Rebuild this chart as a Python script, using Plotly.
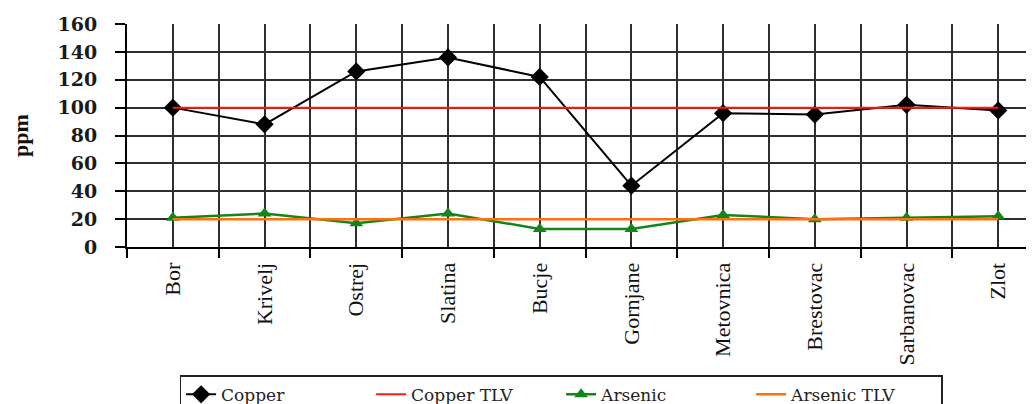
import plotly.graph_objects as go

sites = ["Bor", "Krivelj", "Ostrej", "Slatina", "Bucje", "Gornjane",
         "Metovnica", "Brestovac", "Sarbanovac", "Zlot"]
copper = [100, 88, 126, 136, 122, 44, 96, 95, 102, 98]
copper_tlv = [100] * 10
arsenic = [21, 24, 17, 24, 13, 13, 23, 20, 21, 22]
arsenic_tlv = [20] * 10
y_ticks = [0, 20, 40, 60, 80, 100, 120, 140, 160]

pos = list(range(len(sites)))

fig = go.Figure()
fig.add_trace(go.Scatter(x=pos, y=copper, name="Copper", mode="lines+markers",
                         line=dict(color="black", width=2),
                         marker=dict(symbol="diamond", size=14, color="black")))
fig.add_trace(go.Scatter(x=pos, y=copper_tlv, name="Copper TLV", mode="lines",
                         line=dict(color="#ff1a1a", width=2)))
fig.add_trace(go.Scatter(x=pos, y=arsenic, name="Arsenic", mode="lines+markers",
                         line=dict(color="#12861a", width=2.5),
                         marker=dict(symbol="triangle-up", size=12, color="#12861a")))
fig.add_trace(go.Scatter(x=pos, y=arsenic_tlv, name="Arsenic TLV", mode="lines",
                         line=dict(color="#ff7010", width=2.5)))

grid_c = "#2e2e2e"
fig.update_layout(
    width=1026, height=396,
    margin=dict(l=119, r=0, t=16, b=157, autoexpand=False),
    paper_bgcolor="white", plot_bgcolor="white",
    showlegend=True,
    legend=dict(orientation="h", x=0.058, xanchor="left", y=-0.575, yanchor="top",
                bordercolor="#222", borderwidth=1.5, bgcolor="white",
                font=dict(family="DejaVu Serif", size=17, color="#222"),
                entrywidth=145, tracegroupgap=0),
    xaxis=dict(range=[-0.5, 9.39], tickmode="array", tickvals=pos, ticktext=sites,
               tickangle=-90, ticks="", showgrid=True, gridcolor=grid_c, gridwidth=1.8,
               zeroline=False, showline=True, linecolor="black", linewidth=2,
               automargin=False, ticklabelstandoff=5,
               tickfont=dict(family="Liberation Serif", size=22, color="#111"),
               minor=dict(tick0=-0.5, dtick=1, ticks="outside", ticklen=9,
                          tickwidth=2, tickcolor="black", showgrid=True,
                          gridcolor=grid_c, gridwidth=1.8)),
    yaxis=dict(range=[0, 160], tickmode="array", tickvals=y_ticks,
               showgrid=True, gridcolor=grid_c, gridwidth=1.8, zeroline=False,
               showline=True, linecolor="black", linewidth=2, automargin=False,
               ticks="outside", ticklen=10, tickwidth=2, tickcolor="black",
               ticklabelstandoff=14,
               tickfont=dict(family="DejaVu Serif", size=19, color="#1a1a1a",
                             weight="bold"),
               title=dict(text="<b>ppm</b>", standoff=24,
                          font=dict(family="Liberation Serif", size=22, color="#111"))),
)

fig.write_html("out.html")
